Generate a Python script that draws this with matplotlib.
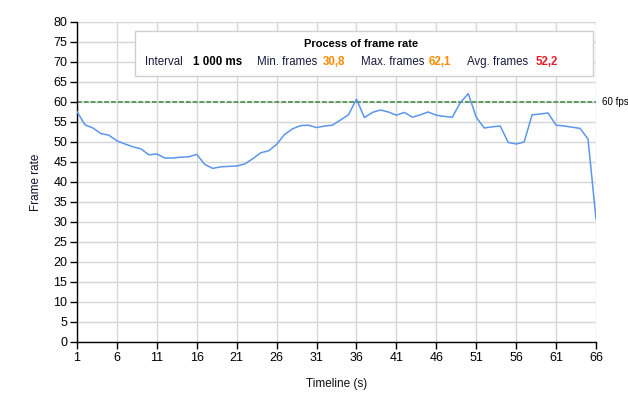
import matplotlib
matplotlib.use("Agg")
import matplotlib.pyplot as plt
from matplotlib.patches import Rectangle

# ---- data ----
seconds = list(range(1, 67))
frame_rate = [57.6, 54.3, 53.5, 52.1, 51.7, 50.3, 49.5, 48.8, 48.3, 46.8,
              47.0, 46.0, 46.0, 46.2, 46.3, 46.9, 44.4, 43.4, 43.8, 43.9,
              44.0, 44.5, 45.8, 47.3, 47.8, 49.4, 51.9, 53.3, 54.1, 54.2,
              53.6, 54.0, 54.2, 55.5, 56.8, 60.7, 56.1, 57.4, 58.0, 57.5,
              56.7, 57.4, 56.2, 56.8, 57.5, 56.7, 56.4, 56.2, 59.8, 62.1,
              56.2, 53.5, 53.8, 54.0, 49.9, 49.5, 50.0, 56.8, 57.0, 57.25,
              54.2, 54.0, 53.7, 53.4, 50.75, 30.8]
target_fps = 60
target_label = "60 fps"
x_ticks = list(range(1, 67, 5))
y_ticks = list(range(0, 81, 5))
title = "Process of frame rate"
stats_labels = ["Interval", "Min. frames", "Max. frames", "Avg. frames"]
stats_values = ["1 000 ms", "30,8", "62,1", "52,2"]
stats_colors = ["#000000", "#FF8C00", "#FF8C00", "#E0202A"]

plt.rcParams['font.family'] = ['Liberation Sans', 'DejaVu Sans']

W, H = 628, 404
fig = plt.figure(figsize=(W / 100, H / 100), dpi=100)
fig.patch.set_facecolor("white")

def fx(px):
    return px / W

def fy(py):
    return 1 - py / H

ax = fig.add_axes([fx(77), fy(342), fx(596) - fx(77), fy(22) - fy(342)])
ax.set_xlim(1, 66)
ax.set_ylim(0, 80)
ax.set_xticks(x_ticks)
ax.set_yticks(y_ticks)
ax.grid(True, color="#d6d6d6", linewidth=1)
ax.set_axisbelow(True)
for s in ["top", "right"]:
    ax.spines[s].set_visible(False)
for s in ["left", "bottom"]:
    ax.spines[s].set_color("black")
    ax.spines[s].set_linewidth(1)
ax.tick_params(axis="both", direction="out", length=5, width=1, color="black",
               labelsize=9, pad=2)

ax.plot(seconds, frame_rate, color="#5B96EC", linewidth=1.1, zorder=3)
ax.axhline(target_fps, color="#5E9A5E", linewidth=1.4, linestyle=(0, (2.5, 1)), zorder=2)
ax.text(1.012, target_fps, target_label, transform=ax.get_yaxis_transform(),
        fontsize=7, va="center", ha="left", color="black")

ax.set_xlabel("Timeline (s)", fontsize=8.5, labelpad=10, color="#101010")
ax.set_ylabel("Frame rate", fontsize=8.5, labelpad=8, color="#101030")

# stats box
fig.patches.append(Rectangle((fx(135), fy(76)), fx(593) - fx(135), fy(31) - fy(76),
                             transform=fig.transFigure, facecolor="white",
                             edgecolor="#cfcfcf", linewidth=1, zorder=5))
fig.text(fx(361), fy(44), title, fontsize=8, fontweight="bold", ha="center",
         va="center", zorder=6)
label_x = [145, 257, 361, 467]
value_x = [193, 323, 429, 536]
for lab, lx, val, vx, col in zip(stats_labels, label_x, stats_values, value_x, stats_colors):
    fig.text(fx(lx), fy(62), lab, fontsize=8.3, ha="left", va="center",
             color="#1a1a40", zorder=6)
    fig.text(fx(vx), fy(62), val, fontsize=8.3, fontweight="bold", ha="left",
             va="center", color=col, zorder=6)

fig.savefig("out.png", dpi=100)
